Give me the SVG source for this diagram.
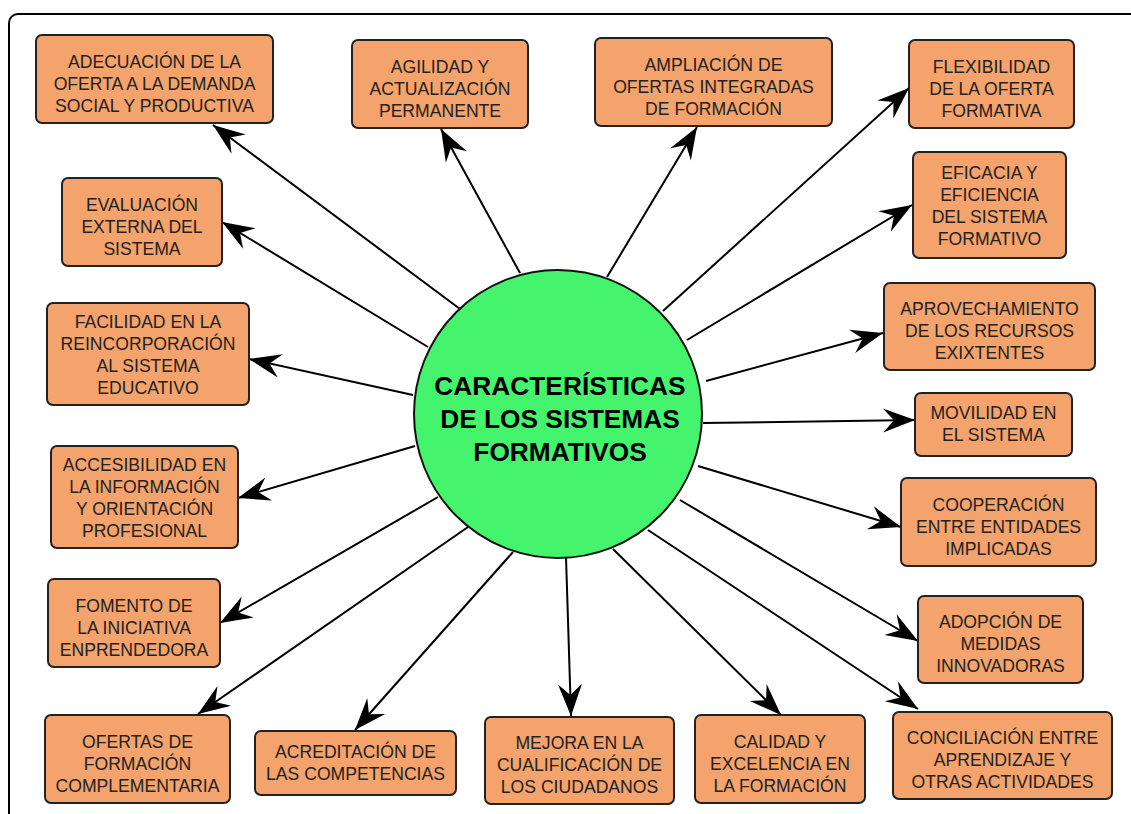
<svg xmlns="http://www.w3.org/2000/svg" width="1131" height="814" viewBox="0 0 1131 814">
<defs>
<marker id="ah" markerUnits="userSpaceOnUse" markerWidth="36" markerHeight="28" viewBox="-34 -14 36 28" refX="0" refY="0" orient="auto">
<path d="M0,0 L-32,-12 L-21,0 L-32,12 Z" fill="#000"/>
</marker>
</defs>
<style>
.frame{fill:#fff;stroke:#000;stroke-width:2}
.box{fill:#F4A36C;stroke:#222;stroke-width:2}
.t{font-family:"Liberation Sans",Arial,sans-serif;font-size:17.6px;fill:#222;text-anchor:middle}
.ct{font-family:"Liberation Sans",Arial,sans-serif;font-size:26.3px;font-weight:bold;fill:#000;text-anchor:middle}
.c line{stroke:#000;stroke-width:2;marker-end:url(#ah)}
</style>
<rect width="1131" height="814" fill="#fff"/>
<rect class="frame" x="9" y="14" width="1150" height="830" rx="9"/>
<g class="c" id="connectors">
<line x1="460" y1="309" x2="213" y2="125"/>
<line x1="520" y1="273" x2="441" y2="129"/>
<line x1="607" y1="277" x2="697" y2="127"/>
<line x1="663" y1="311" x2="909" y2="88"/>
<line x1="687" y1="340" x2="912" y2="205"/>
<line x1="706" y1="381" x2="883" y2="333"/>
<line x1="703" y1="423" x2="915" y2="420"/>
<line x1="698" y1="466" x2="901" y2="527"/>
<line x1="680" y1="500" x2="918" y2="641"/>
<line x1="648" y1="530" x2="918" y2="709"/>
<line x1="613" y1="549" x2="781" y2="715"/>
<line x1="566" y1="557" x2="571" y2="716"/>
<line x1="513" y1="552" x2="355" y2="730"/>
<line x1="468" y1="527" x2="198" y2="714"/>
<line x1="438" y1="497" x2="220" y2="623"/>
<line x1="415" y1="446" x2="238" y2="498"/>
<line x1="413" y1="395" x2="249" y2="359"/>
<line x1="428" y1="347" x2="222" y2="222"/>
</g>
<g id="center">
<circle cx="558" cy="414" r="144" fill="#44F46C" stroke="#111" stroke-width="2"/>
<text class="ct" x="560" y="395">CARACTERÍSTICAS</text>
<text class="ct" x="560" y="428">DE LOS SISTEMAS</text>
<text class="ct" x="560" y="461">FORMATIVOS</text>
</g>
<g id="n1"><rect class="box" x="36" y="35" width="237" height="88" rx="6"/>
<text class="t" x="154.5" y="68">ADECUACIÓN DE LA</text><text class="t" x="154.5" y="90">OFERTA A LA DEMANDA</text><text class="t" x="154.5" y="112">SOCIAL Y PRODUCTIVA</text></g>
<g id="n2"><rect class="box" x="352" y="40" width="176" height="88" rx="6"/>
<text class="t" x="440" y="73">AGILIDAD Y</text><text class="t" x="440" y="95">ACTUALIZACIÓN</text><text class="t" x="440" y="117">PERMANENTE</text></g>
<g id="n3"><rect class="box" x="595" y="38" width="237" height="88" rx="6"/>
<text class="t" x="713.5" y="71">AMPLIACIÓN DE</text><text class="t" x="713.5" y="93">OFERTAS INTEGRADAS</text><text class="t" x="713.5" y="115">DE FORMACIÓN</text></g>
<g id="n4"><rect class="box" x="909" y="40" width="165" height="88" rx="6"/>
<text class="t" x="991.5" y="73">FLEXIBILIDAD</text><text class="t" x="991.5" y="95">DE LA OFERTA</text><text class="t" x="991.5" y="117">FORMATIVA</text></g>
<g id="n5"><rect class="box" x="62" y="178" width="160" height="88" rx="6"/>
<text class="t" x="142" y="211">EVALUACIÓN</text><text class="t" x="142" y="233">EXTERNA DEL</text><text class="t" x="142" y="255">SISTEMA</text></g>
<g id="n6"><rect class="box" x="913" y="152" width="153" height="106" rx="6"/>
<text class="t" x="989.5" y="179">EFICACIA Y</text><text class="t" x="989.5" y="201">EFICIENCIA</text><text class="t" x="989.5" y="223">DEL SISTEMA</text><text class="t" x="989.5" y="245">FORMATIVO</text></g>
<g id="n7"><rect class="box" x="47" y="303" width="202" height="102" rx="6"/>
<text class="t" x="148" y="328">FACILIDAD EN LA</text><text class="t" x="148" y="350">REINCORPORACIÓN</text><text class="t" x="148" y="372">AL SISTEMA</text><text class="t" x="148" y="394">EDUCATIVO</text></g>
<g id="n8"><rect class="box" x="884" y="283" width="211" height="87" rx="6"/>
<text class="t" x="989.5" y="315">APROVECHAMIENTO</text><text class="t" x="989.5" y="337">DE LOS RECURSOS</text><text class="t" x="989.5" y="359">EXIXTENTES</text></g>
<g id="n9"><rect class="box" x="915" y="393" width="157" height="63" rx="6"/>
<text class="t" x="993.5" y="419">MOVILIDAD EN</text><text class="t" x="993.5" y="441">EL SISTEMA</text></g>
<g id="n10"><rect class="box" x="51" y="446" width="187" height="102" rx="6"/>
<text class="t" x="144.5" y="471">ACCESIBILIDAD EN</text><text class="t" x="144.5" y="493">LA INFORMACIÓN</text><text class="t" x="144.5" y="515">Y ORIENTACIÓN</text><text class="t" x="144.5" y="537">PROFESIONAL</text></g>
<g id="n11"><rect class="box" x="901" y="478" width="195" height="88" rx="6"/>
<text class="t" x="998.5" y="511">COOPERACIÓN</text><text class="t" x="998.5" y="533">ENTRE ENTIDADES</text><text class="t" x="998.5" y="555">IMPLICADAS</text></g>
<g id="n12"><rect class="box" x="48" y="579" width="172" height="88" rx="6"/>
<text class="t" x="134" y="612">FOMENTO DE</text><text class="t" x="134" y="634">LA INICIATIVA</text><text class="t" x="134" y="656">ENPRENDEDORA</text></g>
<g id="n13"><rect class="box" x="918" y="596" width="165" height="87" rx="6"/>
<text class="t" x="1000.5" y="628">ADOPCIÓN DE</text><text class="t" x="1000.5" y="650">MEDIDAS</text><text class="t" x="1000.5" y="672">INNOVADORAS</text></g>
<g id="n14"><rect class="box" x="45" y="715" width="185" height="88" rx="6"/>
<text class="t" x="137.5" y="748">OFERTAS DE</text><text class="t" x="137.5" y="770">FORMACIÓN</text><text class="t" x="137.5" y="792">COMPLEMENTARIA</text></g>
<g id="n15"><rect class="box" x="255" y="731" width="201" height="64" rx="6"/>
<text class="t" x="355.5" y="758">ACREDITACIÓN DE</text><text class="t" x="355.5" y="780">LAS COMPETENCIAS</text></g>
<g id="n16"><rect class="box" x="485" y="717" width="189" height="87" rx="6"/>
<text class="t" x="579.5" y="749">MEJORA EN LA</text><text class="t" x="579.5" y="771">CUALIFICACIÓN DE</text><text class="t" x="579.5" y="793">LOS CIUDADANOS</text></g>
<g id="n17"><rect class="box" x="695" y="715" width="170" height="88" rx="6"/>
<text class="t" x="780" y="748">CALIDAD Y</text><text class="t" x="780" y="770">EXCELENCIA EN</text><text class="t" x="780" y="792">LA FORMACIÓN</text></g>
<g id="n18"><rect class="box" x="893" y="712" width="219" height="87" rx="6"/>
<text class="t" x="1002.5" y="744">CONCILIACIÓN ENTRE</text><text class="t" x="1002.5" y="766">APRENDIZAJE Y</text><text class="t" x="1002.5" y="788">OTRAS ACTIVIDADES</text></g>
</svg>
